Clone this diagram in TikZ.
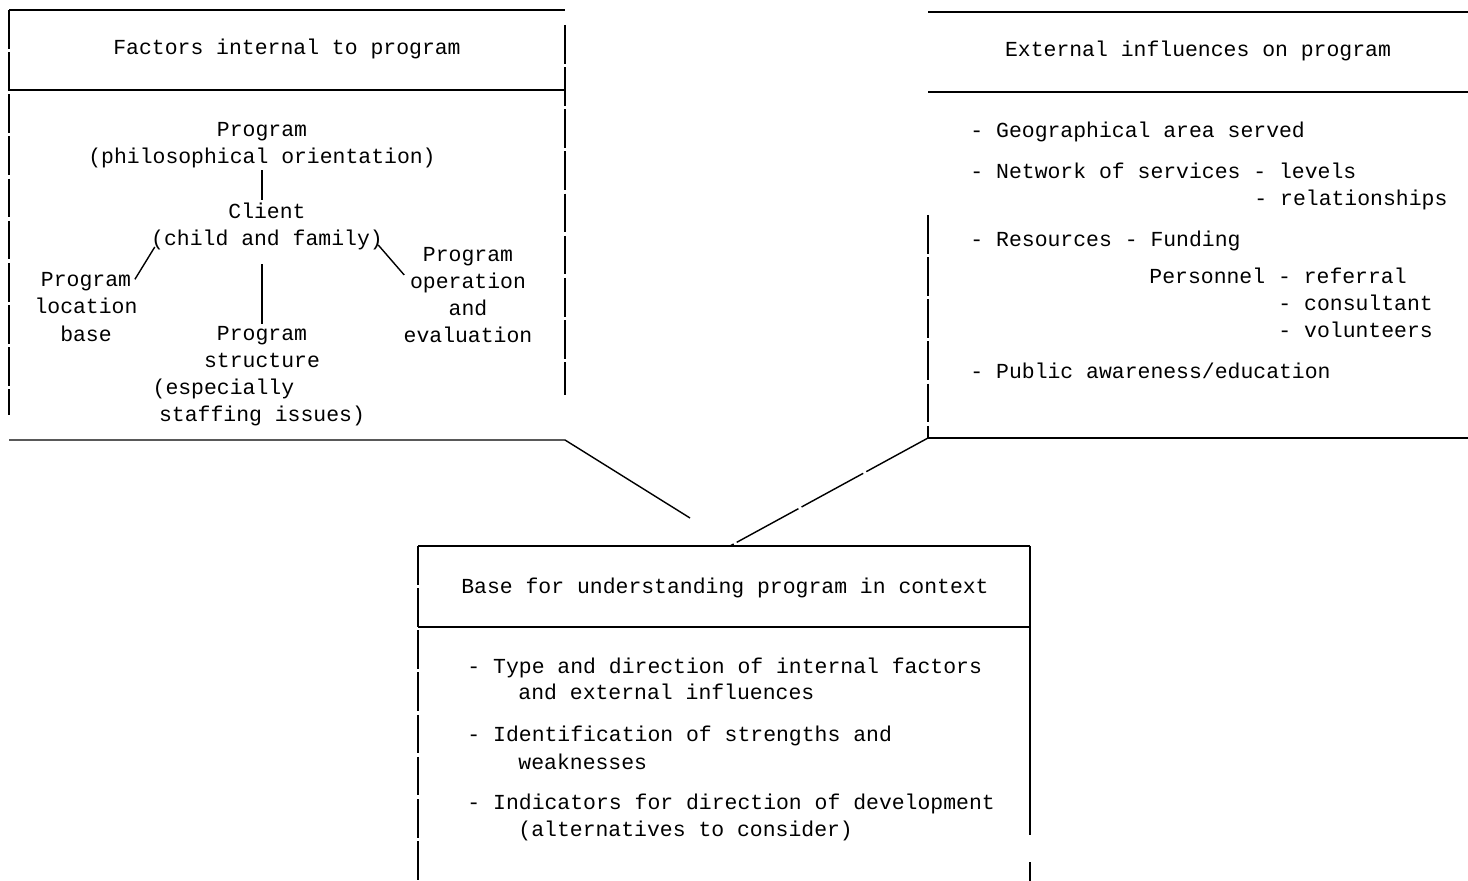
\documentclass[tikz,border=0pt]{standalone}
\usepackage{fontspec}
\newfontfamily\typed{Liberation Mono}
\begin{document}
\begin{tikzpicture}[x=0.02cm, y=-0.02cm, line width=0.8pt,
    font=\typed\fontsize{12.2}{15.4}\selectfont,
    every node/.style={inner sep=1pt},
    item/.style={anchor=base west},
    block/.style={align=center},
    worn/.style={dash pattern=on 22pt off 2pt}]
    \useasboundingbox (0, 0) rectangle (1468, 881);

    % Box: factors internal to program
    \coordinate (intTL) at (9, 10);
    \coordinate (intTR) at (565, 10);
    \coordinate (intBL) at (9, 440);
    \coordinate (intBR) at (565, 440);
    \draw (intTL) -- (intTR);
    \draw (9, 90) -- (565, 90);
    \draw[worn] (intTL) -- (9, 415);
    \draw[worn] (565, 25) -- (565, 395);
    \node (intTitle) at (287, 49) {Factors internal to program};

    \node[block] (prog) at (262, 145) {Program\\(philosophical orientation)};
    \node[block] (client) at (267, 226) {Client\\(child and family)};
    \node[block] (location) at (86, 307) {Program\\location\\base};
    \node[block] (structure) at (262, 376) {Program\\structure\\(especially\phantom{xxxxxx}\\staffing issues)};
    \node[block] (operation) at (468, 295) {Program\\operation\\and\\evaluation};

    \draw (prog.south) -- (prog.south |- client.north);
    \draw ([shift={(0.12cm,0.1cm)}]client.south west) -- ([shift={(-0.1cm,-0.18cm)}]location.north east);
    \draw ([yshift=-0.25cm]client.south -| structure.north) -- (structure.north);
    \draw ([shift={(-0.14cm,0.14cm)}]client.south east) -- ([shift={(0.06cm,0.4cm)}]operation.west);

    % Box: external influences on program
    \coordinate (extTL) at (928, 12);
    \coordinate (extBL) at (928, 438);
    \draw (extTL) -- (1468, 12);
    \draw (928, 92) -- (1468, 92);
    \draw (extBL) -- (1468, 438);
    \draw[worn] (928, 215) -- (extBL);
    \node (extTitle) at (1198, 51) {External influences on program};

    \node[item] (geo) at (968, 138) {- Geographical area served};
    \node[item] (network) at (968, 179) {- Network of services - levels};
    \node[item] (relations) at (1252, 206) {- relationships};
    \node[item] (resources) at (968, 247) {- Resources - Funding};
    \node[item] (personnel) at (1147, 284) {Personnel - referral};
    \node[item] (consultant) at (1276, 311) {- consultant};
    \node[item] (volunteers) at (1276, 338) {- volunteers};
    \node[item] (public) at (968, 379) {- Public awareness/education};

    % Box: base for understanding program in context
    \coordinate (baseTL) at (418, 546);
    \coordinate (baseTR) at (1030, 546);
    \coordinate (baseIn) at (730, 546);
    \draw (baseTL) -- (baseTR);
    \draw (418, 627) -- (1030, 627);
    \draw[worn] (baseTL) -- (418, 881);
    \draw (baseTR) -- (1030, 835);
    \draw (1030, 862) -- (1030, 881);
    \node (baseTitle) at (725, 588) {Base for understanding program in context};

    \node[item] (type) at (465, 674) {- Type and direction of internal factors};
    \node[item] (typeb) at (516, 700) {and external influences};
    \node[item] (ident) at (465, 742) {- Identification of strengths and};
    \node[item] (identb) at (516, 769) {weaknesses};
    \node[item] (indic) at (465, 809) {- Indicators for direction of development};
    \node[item] (indicb) at (516, 836) {(alternatives to consider)};

    % Connectors into the base box
    \coordinate (intEnd) at (690, 518);
    \draw (intBL) -- (intBR) -- (intEnd);
    \draw[dash pattern=on 40pt off 2pt] (extBL) -- (baseIn);
\end{tikzpicture}
\end{document}
